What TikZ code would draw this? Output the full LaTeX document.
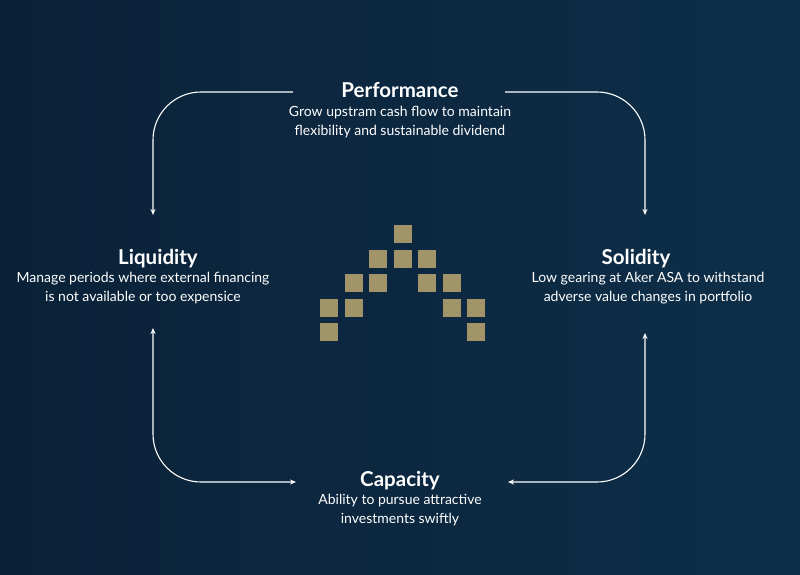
\documentclass[tikz,border=0pt]{standalone}
\usepackage{fontspec}
\setmainfont{Lato}
\usetikzlibrary{arrows.meta}
\definecolor{bgnavy}{RGB}{14,46,72}
\definecolor{bgdark}{RGB}{10,34,56}
\definecolor{gold}{RGB}{160,148,104}
\tikzset{
  ttl/.style={text=white,font=\fontsize{20.5}{24}\selectfont\bfseries,anchor=base},
  body/.style={text=white,font=\fontsize{14}{18.5}\selectfont,align=center,anchor=north},
  conn/.style={draw=white,line width=1.1pt,rounded corners=48pt,-{Stealth[length=6pt,width=5pt]}},
  conn2/.style={conn,{Stealth[length=6pt,width=5pt]}-{Stealth[length=6pt,width=5pt]}},
  sq/.style={fill=gold,draw=none}
}
\begin{document}
\begin{tikzpicture}[x=1pt,y=1pt]
\fill[left color=bgdark,right color=bgnavy] (0,0) rectangle (800,574);
\useasboundingbox (0,0) rectangle (800,574);
\node[ttl] (perf) at (400,476) {Performance};
\node[body] (perfb) at (400,471) {Grow upstram cash flow to maintain\\flexibility and sustainable dividend};
\node[ttl] (liq) at (158,310) {Liquidity};
\node[body] (liqb) at (143,305) {Manage periods where external financing\\is not available or too expensice};
\node[ttl] (sol) at (636,310) {Solidity};
\node[body] (solb) at (648,305) {Low gearing at Aker ASA to withstand\\adverse value changes in portfolio};
\node[ttl] (cap) at (400,88) {Capacity};
\node[body] (capb) at (400,83) {Ability to pursue attractive\\investments swiftly};
\coordinate (p1) at (293,482);
\coordinate (p2) at (505,482);
\coordinate (l1) at (153,359);
\coordinate (l2) at (153,246);
\coordinate (s1) at (645,359);
\coordinate (s2) at (645,241);
\coordinate (c1) at (296,92);
\coordinate (c2) at (508,92);
\draw[conn] (p1) -| (l1);
\draw[conn] (p2) -| (s1);
\draw[conn2] (l2) |- (c1);
\draw[conn2] (s2) |- (c2);
\foreach \c/\r in {3/0, 2/1,3/1,4/1, 1/2,2/2,4/2,5/2, 0/3,1/3,5/3,6/3, 0/4,6/4}{
  \fill[sq] ({329.3+24.45*\c-9},{574-(234.3+24.5*\r)-9}) rectangle ++(18,18);
}
\end{tikzpicture}
\end{document}
